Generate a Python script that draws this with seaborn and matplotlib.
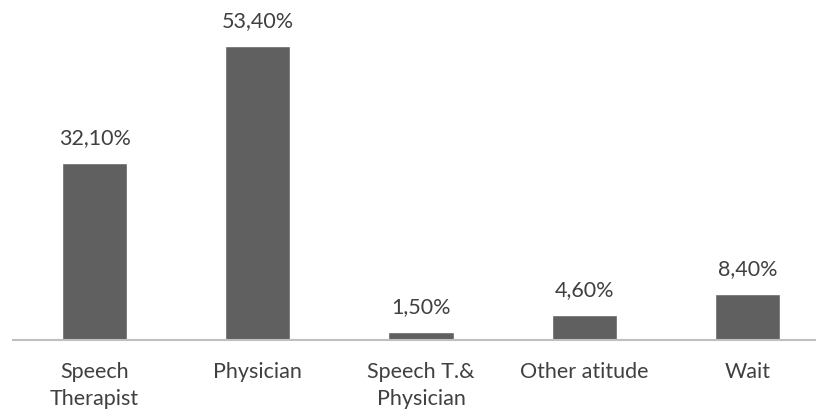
import matplotlib
matplotlib.use("Agg")
import matplotlib.pyplot as plt
import seaborn as sns
import pandas as pd

categories = ["Speech\nTherapist", "Physician", "Speech T.&\nPhysician", "Other atitude", "Wait"]
values = [32.1, 53.4, 1.5, 4.6, 8.4]
value_labels = ["32,10%", "53,40%", "1,50%", "4,60%", "8,40%"]

sns.set_style("white")
plt.rcParams["font.family"] = ["Lato", "DejaVu Sans"]

df = pd.DataFrame({"category": categories, "value": values})

W, H = 816, 412
fig = plt.figure(figsize=(W / 100, H / 100), dpi=100)
ax = fig.add_axes([13 / W, (H - 340) / H, (829 - 13) / W, 330 / H])

sns.barplot(data=df, x="category", y="value", color="#606060", width=0.4,
            saturation=1, ax=ax)

ax.set_xlim(-0.5, 4.5)
ax.set_ylim(0, 60)
ax.set_xlabel("")
ax.set_ylabel("")
ax.set_yticks([])
for side in ("top", "right", "left"):
    ax.spines[side].set_visible(False)
ax.spines["bottom"].set_color("#BFBFBF")
ax.spines["bottom"].set_linewidth(1.5)

ax.tick_params(axis="x", length=0, pad=16, labelsize=15.5, labelcolor="#404040")
for lbl in ax.get_xticklabels():
    lbl.set_linespacing(1.45)

for i, (v, t) in enumerate(zip(values, value_labels)):
    ax.annotate(t, (i, v), xytext=(0, 15), textcoords="offset pixels",
                ha="center", va="bottom", fontsize=15.5, color="#404040")

fig.savefig("out.png", dpi=100)
